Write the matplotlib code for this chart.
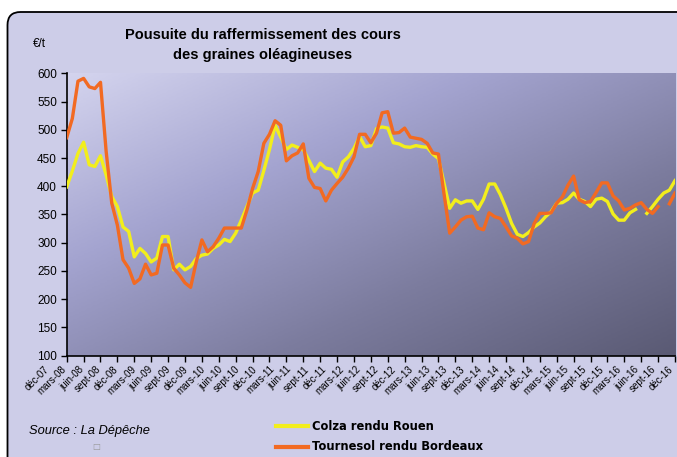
import numpy as np
import matplotlib
matplotlib.use("Agg")
import matplotlib.pyplot as plt
from matplotlib.patches import FancyBboxPatch
from matplotlib.colors import LinearSegmentedColormap

plt.rcParams['font.family'] = ['Liberation Sans', 'DejaVu Sans']

nan = np.nan

# monthly prices, déc-07 .. déc-16 (€/t)
colza = [399, 427, 458, 478, 438, 435, 454, 420, 382, 364, 328, 320, 275, 290, 281, 266, 273, 311, 311,
         252, 262, 252, 258, 272, 278, 280, 290, 296, 306, 302, 317, 340, 364, 388, 393, 428, 465, 508,
         487, 465, 473, 469, 465, 446, 426, 441, 432, 430, 416, 443, 452, 467, 488, 470, 472, 502, 505,
         503, 477, 475, 470, 469, 472, 470, 469, 457, 449, 405, 361, 376, 370, 374, 374, 359, 377, 404,
         404, 385, 361, 334, 315, 311, 318, 328, 335, 346, 355, 370, 371, 377, 388, 377, 373, 364, 377,
         379, 373, 351, 340, 340, 353, 359, nan, 352, 364, 377, 388, 393, 410]
tournesol = [486, 520, 586, 591, 576, 573, 584, 462, 370, 331, 270, 255, 228, 236, 262, 243, 246, 296, 296,
             255, 243, 229, 221, 266, 305, 284, 293, 308, 326, 326, 326, 326, 358, 396, 426, 476, 492, 516,
             508, 445, 454, 459, 475, 414, 398, 396, 374, 393, 405, 416, 432, 452, 492, 492, 477, 494, 530,
             532, 494, 495, 503, 487, 485, 483, 476, 459, 457, 386, 317, 328, 340, 346, 347, 326, 323, 353,
             346, 343, 328, 312, 308, 298, 302, 334, 352, 352, 353, 370, 381, 402, 418, 376, 371, 373, 389,
             406, 406, 383, 374, 358, 361, 367, 371, 359, 352, 364, nan, 369, 388]

# quarterly axis labels: déc-07, mars-08, juin-08, sept-08, déc-08 ...
mois = ['déc', 'mars', 'juin', 'sept']
labels = ['%s-%02d' % (mois[k % 4], 7 + (k + 3) // 4) for k in range(37)]

W, H = 677, 457
fig = plt.figure(figsize=(W / 100, H / 100), dpi=100)
fig.patch.set_facecolor('white')

# background frame in pixel coordinates
bg = fig.add_axes([0, 0, 1, 1])
bg.set_xlim(0, W)
bg.set_ylim(H, 0)
bg.axis('off')
frame = FancyBboxPatch((7.5, 12), 720, 470, boxstyle="round,pad=0,rounding_size=13",
                       facecolor='#CDCDE8', edgecolor='black', lw=1.3)
bg.add_patch(frame)

def fx(x):
    return x / W

def fy(y):
    return 1 - y / H

x0, x1, ytop, ybot = 66.7, 675, 73.3, 355.7
ax = fig.add_axes([fx(x0), fy(ybot), fx(x1) - fx(x0), fy(ytop) - fy(ybot)])

# diagonal gradient of the plot area
u = np.linspace(0, 1, 300)
v = np.linspace(0, 1, 200)
U, V = np.meshgrid(u, v)
T = (U + V) / 2
cmap = LinearSegmentedColormap.from_list('pa', ['#D4D4EE', '#A4A4D0', '#7C7C9E', '#5A5A74'])
ax.imshow(T, cmap=cmap, extent=[0, 1, 0, 1], transform=ax.transAxes, aspect='auto',
          origin='upper', zorder=0, vmin=0, vmax=1)

x = np.arange(len(colza))
ax.plot(x, colza, color='#F2EE1C', lw=2.4, solid_joinstyle='round', zorder=3)
ax.plot(x, tournesol, color='#F26A22', lw=2.4, solid_joinstyle='round', zorder=4)

ax.set_xlim(0, 108)
ax.set_ylim(100, 600)
for s in ['top', 'right']:
    ax.spines[s].set_visible(False)
for s in ['left', 'bottom']:
    ax.spines[s].set_color('black')
    ax.spines[s].set_linewidth(1.2)
ax.set_yticks(np.arange(100, 601, 50))
ax.tick_params(axis='y', direction='out', length=4, width=1, labelsize=8.5, pad=3)
ax.set_xticks(np.arange(0, 109, 3))
ax.set_xticklabels([])
ax.tick_params(axis='x', direction='out', length=4, width=1)

# category labels, spread as in the original (slightly wider than the ticks)
for k, lab in enumerate(labels):
    xe = 44 + k * (668 - 44) / 36
    fig.text(fx(xe), fy(364), lab, rotation=45, rotation_mode='anchor', ha='right', va='top',
             fontsize=7)

fig.text(fx(33), fy(44), '€/t', fontsize=8.5, va='center')
fig.text(fx(263), fy(35), 'Pousuite du raffermissement des cours', fontsize=10.5,
         fontweight='bold', ha='center', va='center')
fig.text(fx(263), fy(55), 'des graines oléagineuses', fontsize=10.5,
         fontweight='bold', ha='center', va='center')

fig.text(fx(29), fy(431), 'Source : La Dépêche', fontsize=9.3, style='italic', va='center')
fig.text(fx(96), fy(447), '□', fontsize=6, color='#999999', ha='center', va='center',
         family='DejaVu Sans')

bg.plot([276, 308], [426, 426], color='#F2EE1C', lw=3)
bg.plot([276, 308], [447, 447], color='#F26A22', lw=3)
fig.text(fx(312), fy(426), 'Colza rendu Rouen', fontsize=8.3, fontweight='bold', va='center',
         family='DejaVu Sans')
fig.text(fx(312), fy(447), 'Tournesol rendu Bordeaux', fontsize=8.3, fontweight='bold',
         va='center', family='DejaVu Sans')

fig.savefig('out.png', dpi=100)
